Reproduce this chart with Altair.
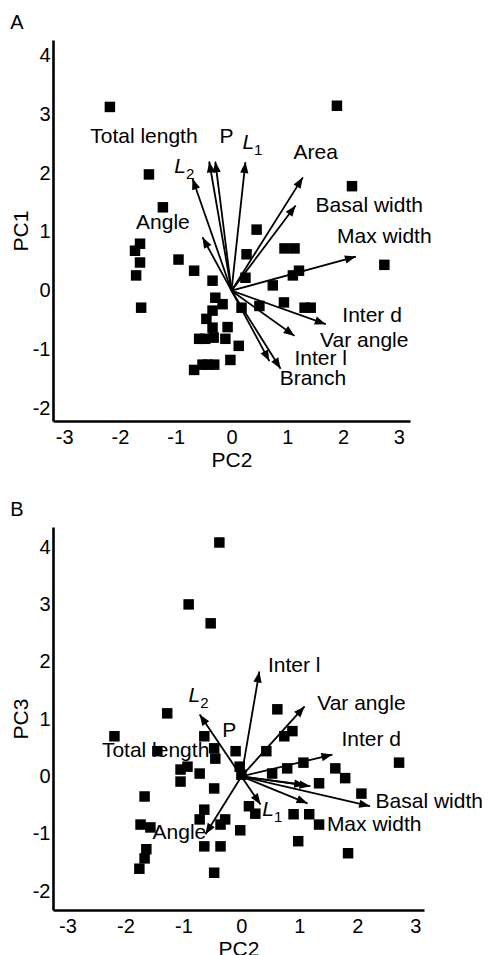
import math
import altair as alt
import pandas as pd

FONT = "Liberation Sans"

# ---------------- Panel A : PC2 (x) vs PC1 (y) ----------------
a_pc2 = [-2.18, 1.89, -1.48, 2.16, -1.23, 0.45, 0.95, 1.13, -1.64, -1.73, -1.64, -1.71,
         -1.62, -0.95, -0.67, 0.27, 2.74, 1.21, 1.10, -0.34, 0.25, 0.74, -0.29, -0.16,
         0.18, 0.50, 0.94, 1.31, 1.42, -0.34, -0.45, -0.34, -0.07, -0.58, -0.47, -0.32,
         -0.11, 0.13, -0.02, -0.67, -0.52, -0.43, -0.31]
a_pc1 = [3.13, 3.15, 1.98, 1.78, 1.42, 1.04, 0.72, 0.72, 0.80, 0.68, 0.48, 0.26,
         -0.29, 0.53, 0.34, 0.62, 0.44, 0.34, 0.26, 0.17, 0.22, 0.09, -0.12, -0.23,
         -0.29, -0.26, -0.20, -0.29, -0.29, -0.34, -0.48, -0.63, -0.62, -0.82, -0.82, -0.80,
         -0.82, -0.94, -1.18, -1.35, -1.26, -1.26, -1.26]

a_vec_names = ["Total length", "P", "L2", "L1", "Area", "Basal width", "Max width",
               "Angle", "Inter d", "Var angle", "Inter l", "Branch"]
a_vec_x = [-0.40, -0.29, -0.70, 0.25, 1.28, 1.15, 2.23, -0.52, 1.69, 1.13, 0.68, 0.88]
a_vec_y = [2.20, 2.20, 1.91, 2.19, 1.93, 1.45, 0.58, 0.91, -0.57, -0.77, -1.20, -1.33]

a_lab_text = ["Total length", "P", "Area", "Basal width", "Max width", "Angle",
              "Inter d", "Var angle", "Inter l", "Branch"]
a_lab_x = [-1.57, -0.09, 1.51, 2.47, 2.74, -1.23, 2.52, 2.38, 1.60, 1.46]
a_lab_y = [2.62, 2.62, 2.34, 1.45, 0.91, 1.16, -0.43, -0.85, -1.16, -1.51]

a_sub_text = ["1", "2"]
a_sub_x = [0.30, -0.92]
a_sub_y = [2.51, 2.10]

# ---------------- Panel B : PC2 (x) vs PC3 (y) ----------------
b_pc2 = [-0.38, -0.91, -0.53, -2.19, -1.28, -1.45, -0.93, -1.05, -1.05, -0.72, -0.64, -0.47,
         -0.45, -0.10, -0.03, 0.00, 0.43, 0.62, 0.74, 0.88, 0.53, 0.79, 1.07, 1.62,
         1.79, 2.72, 1.34, 2.07, -0.47, -1.67, 0.13, 0.24, -0.64, -0.72, -0.28, -0.36,
         -0.02, 0.90, 1.17, 1.34, 0.98, 1.84, -1.74, -1.57, -1.64, -1.67, -1.76, -0.64,
         -0.36, -0.47]
b_pc3 = [4.08, 3.00, 2.67, 0.70, 1.10, 0.44, 0.17, 0.12, -0.09, 0.05, 0.70, 0.49,
         0.31, 0.44, 0.17, 0.03, 0.44, 1.17, 0.70, 0.79, 0.05, 0.14, 0.24, 0.14,
         -0.03, 0.24, -0.12, -0.30, -0.21, -0.35, -0.52, -0.65, -0.58, -0.75, -0.75, -0.84,
         -0.94, -0.66, -0.66, -0.84, -1.13, -1.34, -0.84, -0.89, -1.27, -1.43, -1.61, -1.22,
         -1.22, -1.68]

b_vec_names = ["L2", "Inter l", "Var angle", "Inter d", "Area", "Branch", "Basal width",
               "Max width", "L1", "Angle"]
b_vec_x = [-0.72, 0.31, 1.09, 1.57, 1.19, 1.10, 2.22, 1.14, 0.33, -0.62]
b_vec_y = [1.08, 1.83, 1.22, 0.38, -0.17, -0.15, -0.52, -0.47, -0.49, -1.01]

b_lab_text = ["P", "Total length", "Inter l", "Var angle", "Inter d", "Basal width",
              "Max width", "Angle"]
b_lab_x = [-0.21, -1.48, 0.91, 2.07, 2.24, 3.24, 2.29, -1.07]
b_lab_y = [0.80, 0.44, 1.92, 1.27, 0.64, -0.44, -0.84, -0.99]

b_sub_text = ["2", "1"]
b_sub_x = [-0.81, 0.46]
b_sub_y = [1.40, -0.58]

x_ticks = [-3, -2, -1, 0, 1, 2, 3]
y_ticks = [-2, -1, 0, 1, 2, 3, 4]

ARROW = "M0,0L-0.38,1L0.38,1Z"
LABEL_EXPR = "'' + datum.value"


def panel(letter, ytitle, px, py, vn, vx, vy, lt, lx, ly, st, sx, sy,
          xdom, ydom, w, h):
    kx = w / (xdom[1] - xdom[0])
    ky = h / (ydom[1] - ydom[0])
    pts = pd.DataFrame({"x": px, "y": py})
    vec = pd.DataFrame({"name": vn, "x": vx, "y": vy})
    vec["x0"] = 0.0
    vec["y0"] = 0.0
    vec["ang"] = [math.degrees(math.atan2(a * kx, b * ky)) % 360 for a, b in zip(vx, vy)]
    labs = pd.DataFrame({"t": lt, "x": lx, "y": ly})
    subs = pd.DataFrame({"t": st, "x": sx, "y": sy})
    subs["L"] = "L"

    xs = alt.Scale(domain=xdom, nice=False, zero=False)
    ys = alt.Scale(domain=ydom, nice=False, zero=False)
    X = alt.X("x:Q", scale=xs, axis=alt.Axis(values=x_ticks, title="PC2", labelExpr=LABEL_EXPR))
    Y = alt.Y("y:Q", scale=ys, axis=alt.Axis(values=y_ticks, title=ytitle, labelExpr=LABEL_EXPR))

    p = alt.Chart(pts).mark_square(size=110, color="black", opacity=1).encode(x=X, y=Y)
    r = alt.Chart(vec).mark_rule(color="black", strokeWidth=1.8).encode(
        x=alt.X("x0:Q", scale=xs), y=alt.Y("y0:Q", scale=ys), x2="x:Q", y2="y:Q")
    hd = alt.Chart(vec).mark_point(shape=ARROW, size=480, filled=True, color="black",
                                   opacity=1, strokeWidth=0).encode(
        x=alt.X("x:Q", scale=xs), y=alt.Y("y:Q", scale=ys),
        angle=alt.Angle("ang:Q", scale=None))
    t = alt.Chart(labs).mark_text(font=FONT, fontSize=21, color="black",
                                  align="center", baseline="middle").encode(
        x=alt.X("x:Q", scale=xs), y=alt.Y("y:Q", scale=ys), text="t:N")
    tl = alt.Chart(subs).mark_text(font=FONT, fontSize=21, fontStyle="italic", color="black",
                                   align="center", baseline="middle").encode(
        x=alt.X("x:Q", scale=xs), y=alt.Y("y:Q", scale=ys), text="L:N")
    ts = alt.Chart(subs).mark_text(font=FONT, fontSize=15, color="black", dx=10, dy=7,
                                   align="center", baseline="middle").encode(
        x=alt.X("x:Q", scale=xs), y=alt.Y("y:Q", scale=ys), text="t:N")
    return alt.layer(p, r, hd, t, tl, ts).properties(
        width=w, height=h,
        title=alt.TitleParams(letter, anchor="start", frame="bounds", fontSize=20,
                              fontWeight="normal", font=FONT, color="black", offset=7))


pa = panel("A", "PC1", a_pc2, a_pc1, a_vec_names, a_vec_x, a_vec_y,
           a_lab_text, a_lab_x, a_lab_y, a_sub_text, a_sub_x, a_sub_y,
           [-3.2, 3.2], [-2.22, 4.27], 357, 381)
pb = panel("B", "PC3", b_pc2, b_pc3, b_vec_names, b_vec_x, b_vec_y,
           b_lab_text, b_lab_x, b_lab_y, b_sub_text, b_sub_x, b_sub_y,
           [-3.25, 3.15], [-2.33, 4.35], 371, 383)

chart = alt.vconcat(pa, pb, spacing=30).properties(
    padding={"left": 2, "top": 5, "right": 0, "bottom": 0}
).configure_view(stroke=None).configure_axis(
    grid=False, ticks=False, domainColor="black", domainWidth=2.6,
    labelFont=FONT, labelFontSize=20, labelColor="black", labelPadding=3,
    titleFont=FONT, titleFontSize=21, titleFontWeight="normal", titleColor="black",
    titlePadding=1
).configure_axisX(labelPadding=6, titlePadding=2)

chart.save("out.html", embed_options={"renderer": "svg", "actions": False})
